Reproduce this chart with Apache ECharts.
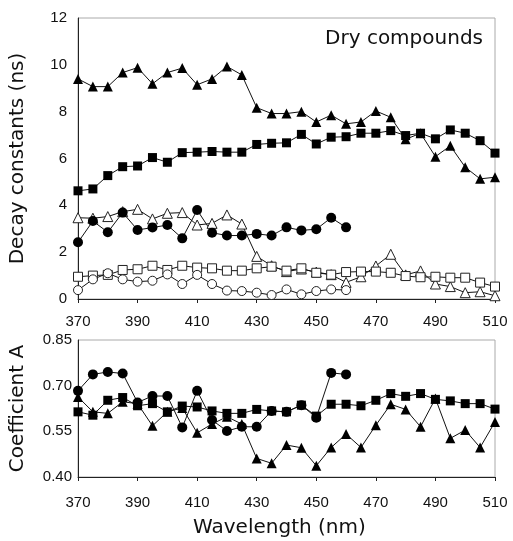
<!DOCTYPE html>
<html>
<head>
<meta charset="utf-8">
<script src="https://cdn.jsdelivr.net/npm/echarts@6/dist/echarts.min.js"></script>
<style>
  html, body { margin: 0; padding: 0; background: #fff; }
  #chart { width: 513px; height: 541px; }
</style>
</head>
<body>
<div id="chart"></div>
<script>
  // wavelengths (nm)
  var wl = [370, 375, 380, 385, 390, 395, 400, 405, 410, 415, 420, 425, 430, 435, 440,
            445, 450, 455, 460, 465, 470, 475, 480, 485, 490, 495, 500, 505, 510];
  var xTicks = [370, 390, 410, 430, 450, 470, 490, 510];
  var yTicksA = [0.40, 0.55, 0.70, 0.85];

  // decay constants (ns)
  var tauTriFilled = [9.4, 9.07, 9.07, 9.67, 9.88, 9.19, 9.67, 9.86, 9.15, 9.4, 9.93, 9.57, 8.17, 7.92, 7.92,
                      8.0, 7.56, 7.85, 7.48, 7.56, 8.03, 7.76, 6.82, 7.08, 6.08, 6.54, 5.63, 5.13, 5.2];
  var tauSqFilled = [4.62, 4.70, 5.27, 5.65, 5.68, 6.04, 5.84, 6.25, 6.27, 6.3, 6.27, 6.27, 6.6, 6.65, 6.67,
                     7.03, 6.62, 6.91, 6.93, 7.08, 7.08, 7.19, 6.98, 7.08, 6.84, 7.22, 7.08, 6.76, 6.23];
  var tauCircFilled = [2.42, 3.33, 2.85, 3.69, 2.95, 3.05, 3.16, 2.59, 3.80, 2.83, 2.71, 2.71, 2.78, 2.71, 3.06,
                       2.93, 2.98, 3.47, 3.06];
  var tauTriOpen = [3.47, 3.45, 3.52, 3.73, 3.83, 3.42, 3.66, 3.69, 3.16, 3.23, 3.59, 3.2, 1.82, 1.42, 1.17,
                    1.28, 1.15, 1.04, 0.71, 0.95, 1.41, 1.91, 1.03, 1.20, 0.64, 0.53, 0.27, 0.31, 0.14];
  var tauSqOpen = [0.95, 1.0, 1.03, 1.24, 1.27, 1.42, 1.24, 1.42, 1.34, 1.31, 1.21, 1.21, 1.31, 1.38, 1.21,
                   1.31, 1.12, 1.04, 1.15, 1.17, 1.17, 1.12, 0.98, 0.93, 0.95, 0.91, 0.91, 0.70, 0.53];
  var tauCircOpen = [0.38, 0.84, 1.10, 0.84, 0.74, 0.78, 1.05, 0.64, 1.03, 0.64, 0.36, 0.34, 0.27, 0.17, 0.41,
                     0.2, 0.34, 0.41, 0.38];

  // coefficient A
  var coefCirc = [0.683, 0.737, 0.745, 0.74, 0.645, 0.666, 0.666, 0.563, 0.683, 0.587, 0.551, 0.565, 0.565, 0.617, 0.614,
                  0.636, 0.595, 0.742, 0.737];
  var coefSq = [0.614, 0.603, 0.652, 0.661, 0.634, 0.641, 0.614, 0.633, 0.630, 0.617, 0.609, 0.609, 0.622, 0.617, 0.614,
                0.636, 0.60, 0.639, 0.639, 0.634, 0.652, 0.674, 0.665, 0.674, 0.655, 0.65, 0.641, 0.641, 0.623];
  var coefTri = [0.663, 0.614, 0.609, 0.647, 0.641, 0.568, 0.614, 0.627, 0.545, 0.574, 0.598, 0.574, 0.461, 0.445, 0.505,
                 0.496, 0.437, 0.497, 0.541, 0.497, 0.57, 0.639, 0.622, 0.565, 0.658, 0.527, 0.554, 0.497, 0.581];

  function pairs(ys) {
    return ys.map(function (y, i) { return [wl[i], y]; });
  }

  var lbl = { fontFamily: 'Liberation Sans', fontSize: 15, color: '#111' };
  var ttl = { fontFamily: 'DejaVu Sans', fontSize: 20, color: '#111' };

  function line(name, data, sym, size, filled, gi) {
    return {
      name: name,
      type: 'line',
      xAxisIndex: gi,
      yAxisIndex: gi,
      data: pairs(data),
      symbol: sym,
      symbolSize: size,
      showAllSymbol: true,
      animation: false,
      lineStyle: { color: '#111', width: 1 },
      itemStyle: filled
        ? { color: '#000', borderColor: '#000', borderWidth: 0 }
        : { color: '#fff', borderColor: '#222', borderWidth: 1 }
    };
  }

  function xAx(gi, margin) {
    return {
      type: 'value', gridIndex: gi, min: 370, max: 510,
      axisLine: { lineStyle: { color: '#222', width: 1 } },
      axisTick: { show: true, length: 4, inside: false, customValues: xTicks, lineStyle: { color: '#222' } },
      axisLabel: Object.assign({ margin: margin, customValues: xTicks }, lbl),
      splitLine: { show: false }
    };
  }

  var myChart = echarts.init(document.getElementById('chart'));
  var option = {
    backgroundColor: '#fff',
    animation: false,
    grid: [
      { left: 73, right: 18, top: 18, height: 281, show: true, borderColor: '#aaa', borderWidth: 1 },
      { left: 73, right: 18, top: 340, height: 137, show: true, borderColor: '#aaa', borderWidth: 1 }
    ],
    xAxis: [xAx(0, 15), xAx(1, 18)],
    yAxis: [
      {
        type: 'value', gridIndex: 0, min: 0, max: 12, interval: 2,
        name: 'Decay constants (ns)', nameLocation: 'middle', nameGap: 50,
        nameTextStyle: ttl,
        axisLine: { show: true, lineStyle: { color: '#222' } },
        axisTick: { show: false },
        axisLabel: Object.assign({ margin: 11 }, lbl),
        splitLine: { show: false }
      },
      {
        type: 'value', gridIndex: 1, min: 0.40, max: 0.85,
        name: 'Coefficient A', nameLocation: 'middle', nameGap: 50,
        nameTextStyle: ttl,
        axisLine: { show: true, lineStyle: { color: '#222' } },
        axisTick: { show: false, customValues: yTicksA },
        axisLabel: Object.assign({ margin: 6, customValues: yTicksA,
          formatter: function (v) { return v.toFixed(2); } }, lbl),
        splitLine: { show: false }
      }
    ],
    graphic: [
      { type: 'text', right: 30, top: 29,
        style: { text: 'Dry compounds', fontFamily: 'DejaVu Sans', fontSize: 20, fill: '#111' } },
      { type: 'text', left: 193, top: 518,
        style: { text: 'Wavelength (nm)', fontFamily: 'DejaVu Sans', fontSize: 20, fill: '#111' } }
    ],
    series: [
      line('tri open', tauTriOpen, 'triangle', 10, false, 0),
      line('sq open', tauSqOpen, 'rect', 9, false, 0),
      line('circ open', tauCircOpen, 'circle', 9, false, 0),
      line('circ filled', tauCircFilled, 'circle', 10, true, 0),
      line('sq filled', tauSqFilled, 'rect', 9, true, 0),
      line('tri filled', tauTriFilled, 'triangle', 10, true, 0),
      line('A circ', coefCirc, 'circle', 10, true, 1),
      line('A sq', coefSq, 'rect', 9, true, 1),
      line('A tri', coefTri, 'triangle', 10, true, 1)
    ]
  };
  myChart.setOption(option);
</script>
</body>
</html>
